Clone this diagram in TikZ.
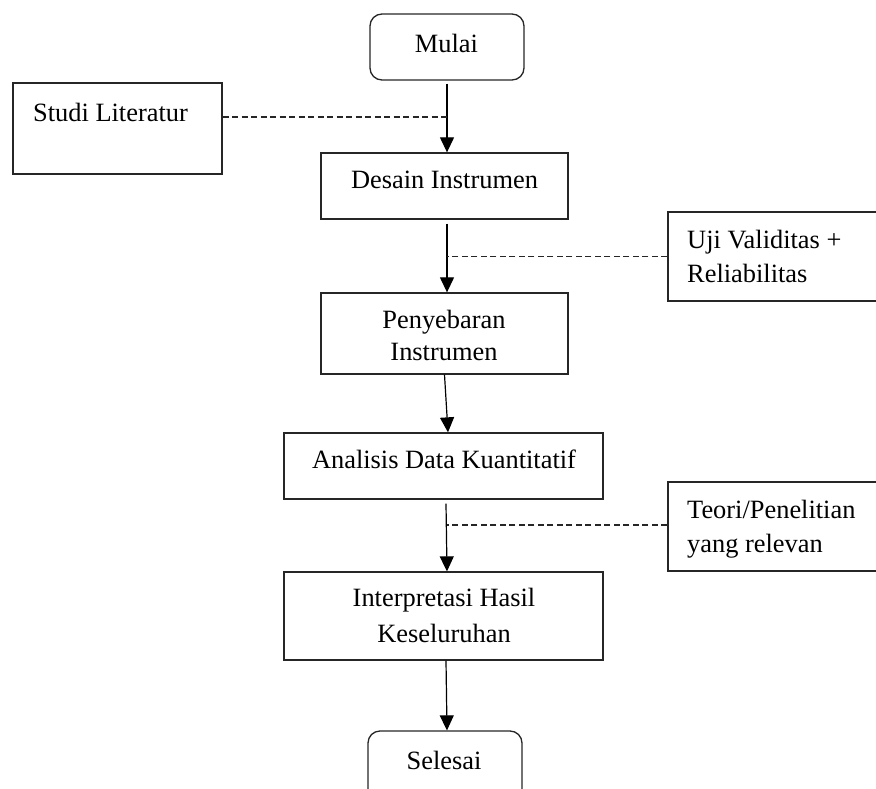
\documentclass[tikz,border=0pt]{standalone}
\usepackage{fontspec}
\setmainfont{Liberation Serif}
\usetikzlibrary{arrows.meta,calc}
\begin{document}
\begin{tikzpicture}[x=1pt,y=-1pt,
  box/.style={draw=black!85,line width=1.3pt,inner sep=0pt},
  rbox/.style={box,rounded corners=12pt},
  txt/.style={inner sep=0pt,font=\fontsize{26.4}{32}\selectfont},
  arr/.style={draw=black,line width=1.2pt,-{Triangle[width=14pt,length=15pt]}},
  dsh/.style={draw=black!85,line width=1.1pt,dash pattern=on 6pt off 3.5pt}]
\path[use as bounding box,clip] (0,0) rectangle (876,789);
% boxes
\node[rbox,minimum width=154pt,minimum height=66pt] (mulai) at (447,47) {};
\node[box,minimum width=209pt,minimum height=91pt] (studi) at (117.5,128.5) {};
\node[box,minimum width=247pt,minimum height=66pt] (desain) at (444.5,186) {};
\node[box,minimum width=212pt,minimum height=89pt] (uji) at (774,256.5) {};
\node[box,minimum width=247pt,minimum height=81pt] (penyeb) at (444.5,333.5) {};
\node[box,minimum width=319pt,minimum height=66pt] (analisis) at (443.5,466) {};
\node[box,minimum width=212pt,minimum height=89pt] (teori) at (774,526.5) {};
\node[box,minimum width=319pt,minimum height=88pt] (interp) at (443.5,616) {};
\node[rbox,minimum width=154pt,minimum height=80pt] (selesai) at (445,771) {};
% texts
\node[txt] (tmulai) at (446.5,43) {Mulai};
\node[txt] (tstudi) at (110.5,112) {Studi Literatur};
\node[txt] (tdesain) at (444.5,180) {Desain Instrumen};
\node[txt,align=left,anchor=west,font=\fontsize{26.4}{34}\selectfont] (tuji) at (687,256) {Uji Validitas +\\Reliabilitas};
\node[txt,align=center] (tpenyeb) at (444,335) {Penyebaran\\Instrumen};
\node[txt] (tanalisis) at (444,459) {Analisis Data Kuantitatif};
\node[txt,align=left,anchor=west,font=\fontsize{26.4}{34}\selectfont] (tteori) at (687,529) {Teori/Penelitian\\yang relevan};
\node[txt,align=center,font=\fontsize{26.4}{36}\selectfont] (tinterp) at (444,615) {Interpretasi Hasil\\Keseluruhan};
\node[txt] (tselesai) at (444,760) {Selesai};
% arrows
\draw[arr] ($(mulai.south)+(0,3)$) -- (mulai.south |- desain.north);
\draw[arr] ($(desain.south -| mulai.south)+(0,4)$) -- (mulai.south |- penyeb.north);
\draw[arr] (penyeb.south) -- ($(analisis.north)+(4.5,0)$);
\draw[arr] ($(analisis.south)+(2.5,4)$) -- ($(interp.north)+(3.5,0)$);
\draw[arr] ($(interp.south)+(2.5,0)$) -- ($(selesai.north)+(2,0)$);
% dashed links
\coordinate (s1) at ($(studi.east)+(0,-11.5)$);
\draw[dsh] (s1) -- (s1 -| mulai.south);
\draw[dsh] (uji.west) -- (uji.west -| mulai.south);
\draw[dsh] ($(teori.west)+(0,-1.5)$) -- ($(teori.west -| mulai.south)+(0,-1.5)$);
\end{tikzpicture}
\end{document}
